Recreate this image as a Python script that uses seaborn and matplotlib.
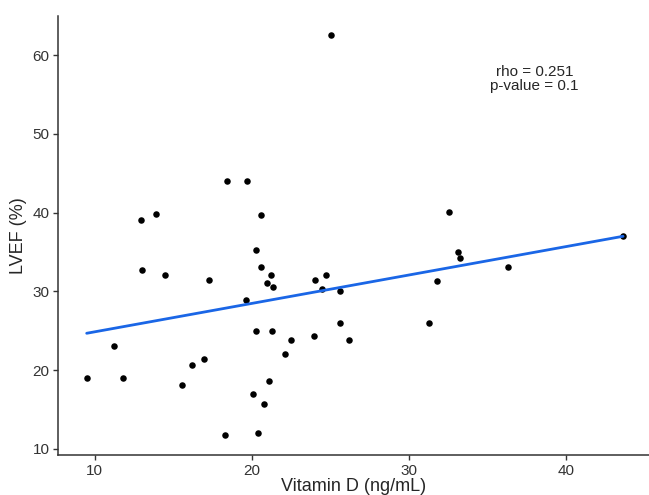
import numpy as np
import pandas as pd
import matplotlib
matplotlib.use("Agg")
import matplotlib.pyplot as plt
import seaborn as sns

# values
vitamin_d = [12.94, 13.90, 18.41, 19.71, 20.61, 20.31, 13.02, 14.51, 17.30, 20.59,
             21.22, 21.00, 21.38, 19.62, 24.03, 24.72, 24.51, 20.30, 21.30, 22.52,
             24.00, 22.10, 11.22, 9.50, 11.80, 16.21, 17.00, 15.60, 21.11, 20.11,
             20.80, 18.33, 20.40, 25.03, 32.54, 43.65, 25.62, 25.62, 26.21, 31.32,
             31.80, 33.13, 33.25, 36.31]
lvef = [39.02, 39.86, 44.05, 44.05, 39.73, 35.25, 32.75, 32.03, 31.40, 33.05,
        32.11, 31.05, 30.55, 28.90, 31.44, 32.03, 30.33, 25.04, 25.04, 23.90,
        24.32, 22.03, 23.09, 19.02, 19.02, 20.67, 21.44, 18.13, 18.60, 17.04,
        15.68, 11.74, 12.03, 62.57, 40.04, 37.03, 30.04, 26.01, 23.90, 26.01,
        31.31, 35.03, 34.27, 33.05]

df = pd.DataFrame({"vitd": vitamin_d, "lvef": lvef})

sns.set_style("ticks")
plt.rcParams["font.family"] = ["Liberation Sans", "DejaVu Sans"]

fig = plt.figure(figsize=(6.49, 4.95), dpi=100)
ax = fig.add_axes([0.09, 0.081, 0.91, 0.887])

sns.regplot(x="vitd", y="lvef", data=df, ci=None, ax=ax,
            scatter_kws={"s": 22, "color": "black", "alpha": 1, "linewidths": 0},
            line_kws={"color": "#1a66e6", "linewidth": 2})

ax.set_xlim(7.7, 45.3)
ax.set_ylim(9.25, 65.0)
ax.set_xticks([10, 20, 30, 40])
ax.set_yticks([10, 20, 30, 40, 50, 60])
ax.tick_params(labelsize=11, colors="#333333", length=3.5, width=1, pad=3)
for s in ["left", "bottom"]:
    ax.spines[s].set_color("#333333")
    ax.spines[s].set_linewidth(1.1)
sns.despine(ax=ax)

ax.set_xlabel("Vitamin D (ng/mL)", fontsize=13, labelpad=0)
ax.set_ylabel("LVEF (%)", fontsize=13, labelpad=4)

ax.text(38, 57, "rho = 0.251\np-value = 0.1", ha="center", va="center",
        fontsize=11, linespacing=1.05)

fig.savefig("out.png", dpi=100)
